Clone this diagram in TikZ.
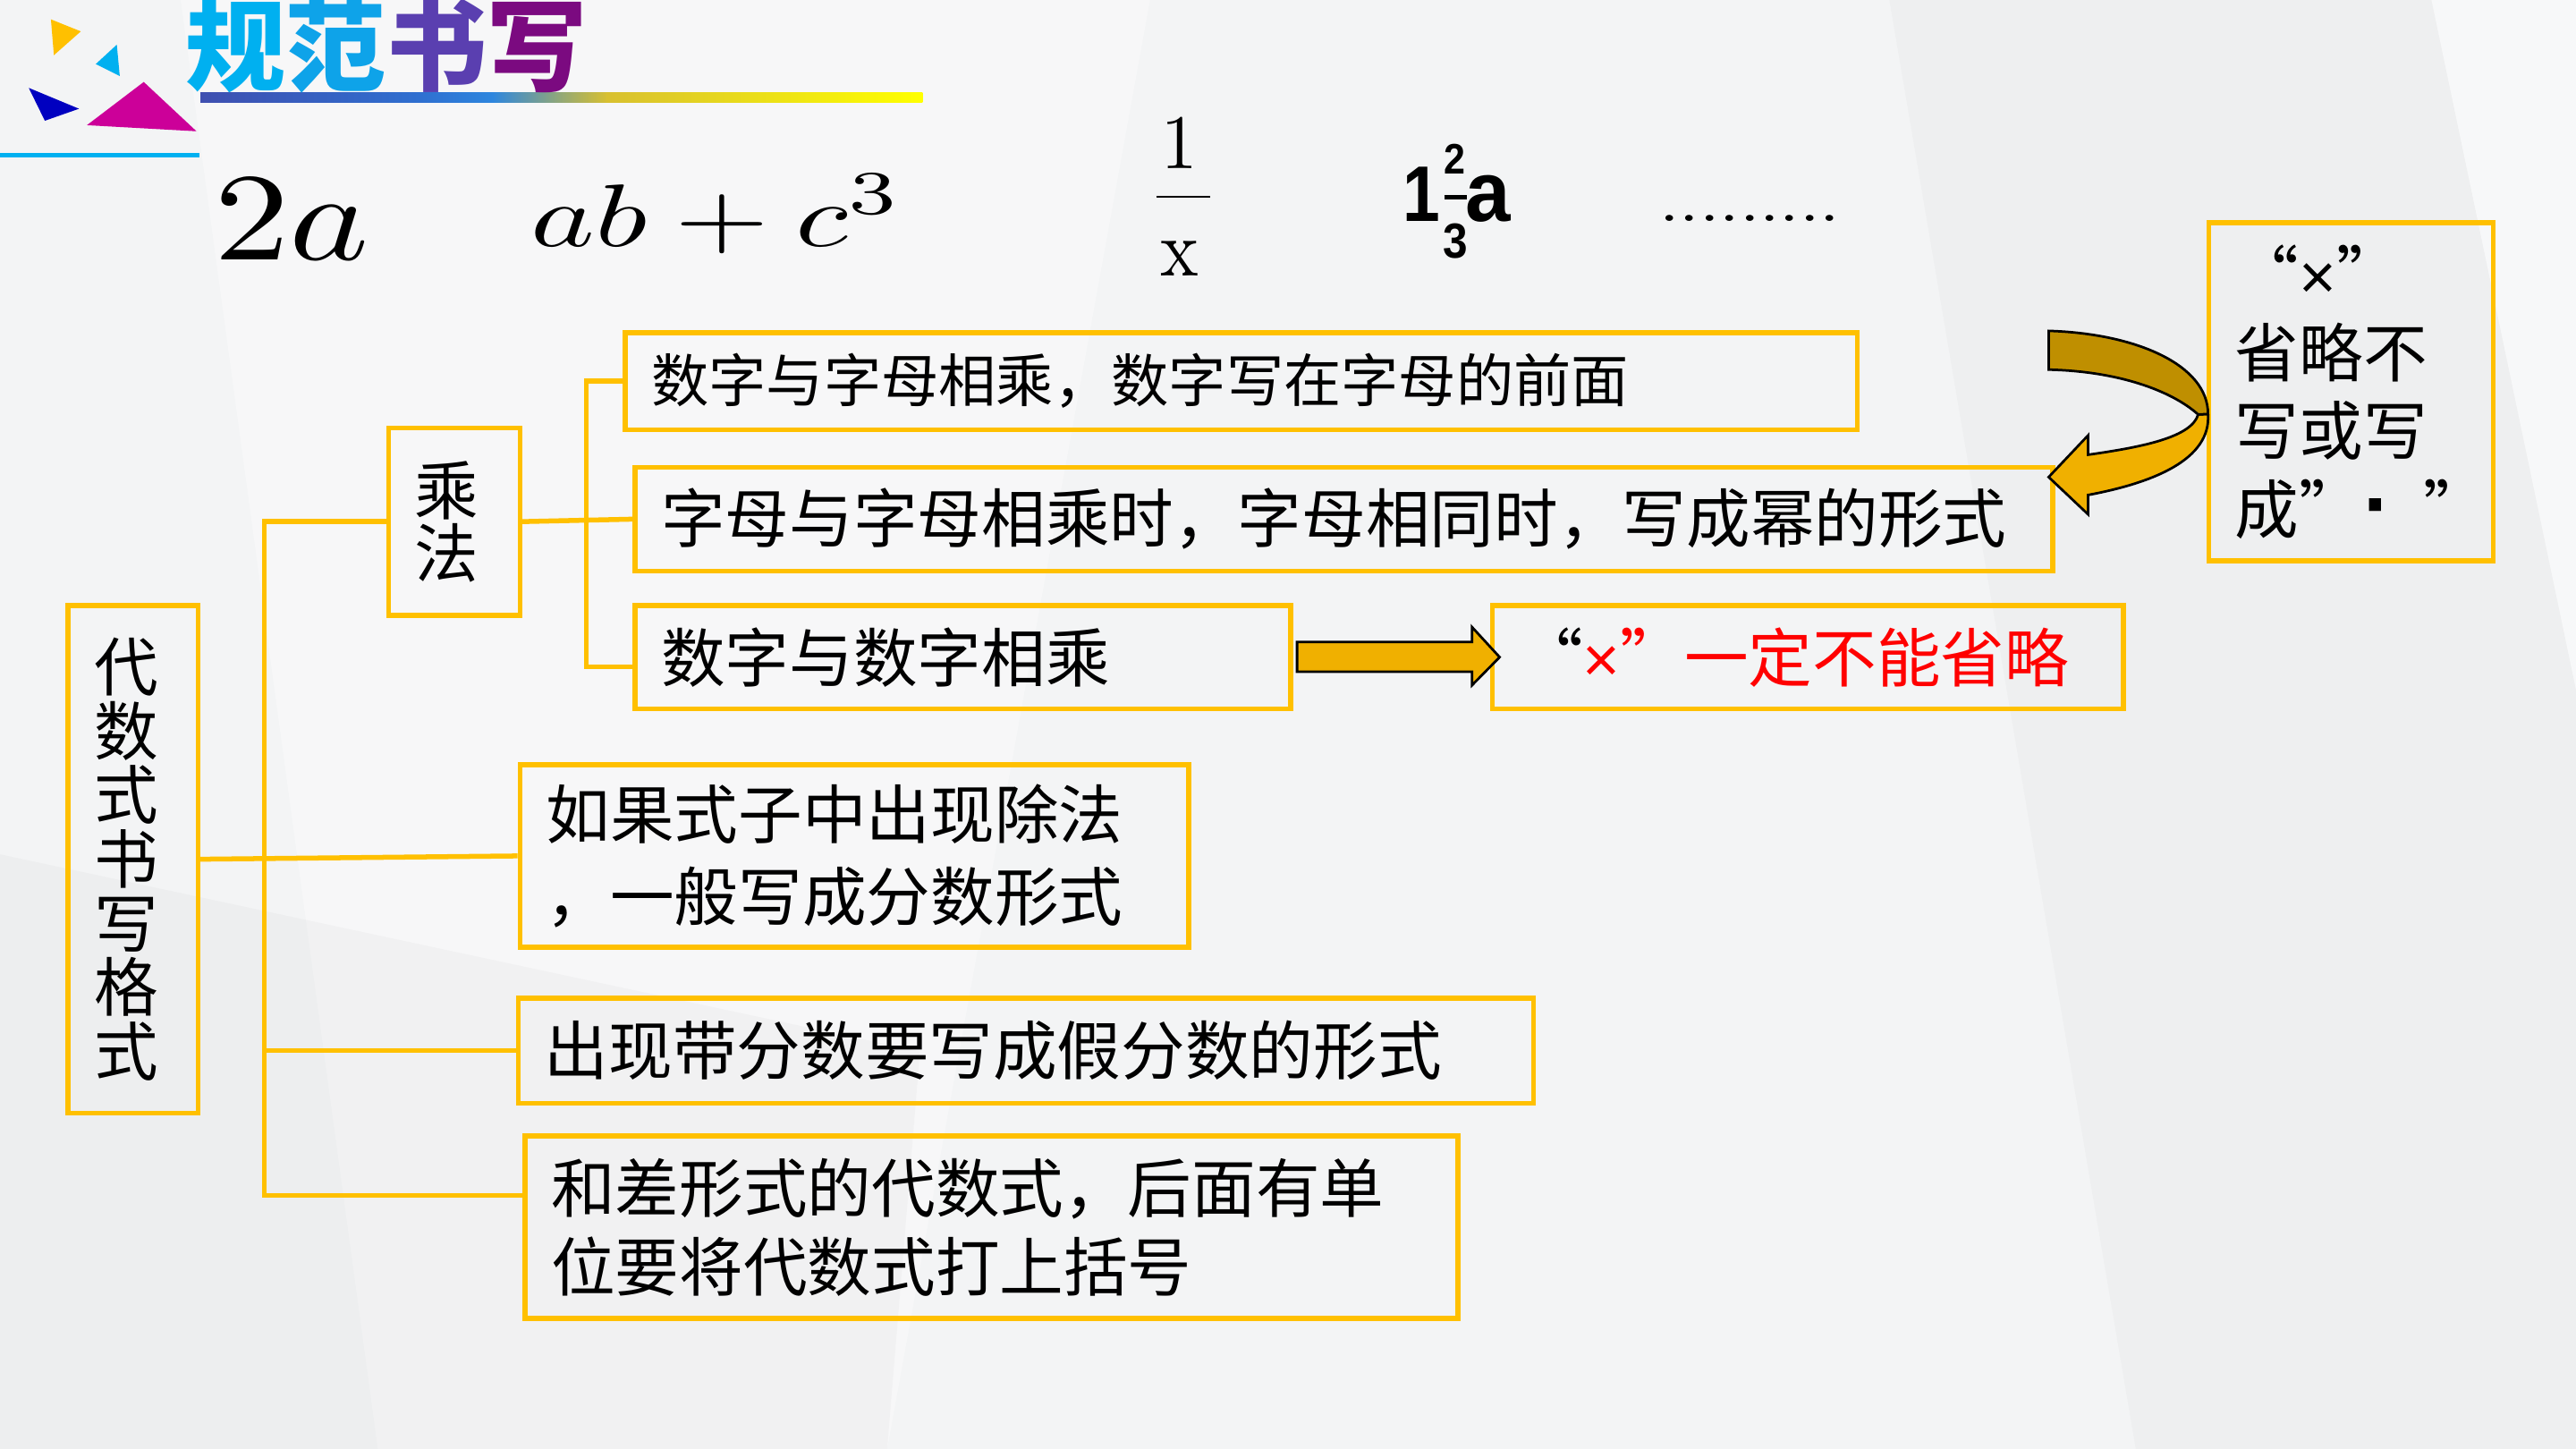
\documentclass[tikz,border=0pt]{standalone}
\usepackage[no-math]{fontspec}
\usepackage{graphicx}
\usetikzlibrary{calc}
\setmainfont{Noto Sans CJK SC}
\newfontfamily\lsans{Liberation Sans}
\definecolor{boxy}{HTML}{FFC000}
\definecolor{bgc}{HTML}{F3F4F5}
\definecolor{arrowy}{HTML}{F0B000}
\definecolor{arrowd}{HTML}{BF8F00}
\definecolor{tcyan}{HTML}{00B0F0}
\definecolor{tblue}{HTML}{2F86DA}
\definecolor{tviol}{HTML}{5A3FB0}
\definecolor{tpurp}{HTML}{7B0A80}
\definecolor{redt}{HTML}{FF0000}
\definecolor{dblue}{HTML}{0000C0}
\definecolor{magt}{HTML}{CC0099}
\tikzset{
  ybox/.style={draw=boxy, line width=3pt, anchor=north west, inner xsep=16pt, inner ysep=0pt, align=left,
    font=\fontsize{39}{48}\selectfont},
  conn/.style={draw=boxy, line width=3pt},
  blockarrow/.style={draw=black, line width=1.5pt, line join=miter},
}
\begin{document}
\begin{tikzpicture}[x=1pt,y=-1pt]
\fill[bgc] (0,0) rectangle (1568,882);
\useasboundingbox (0,0) rectangle (1568,882);
% faint background facets
\fill[white, opacity=0.35] (110,0) -- (700,0) -- (540,882) -- (230,882) -- cycle;
\fill[black, opacity=0.025] (0,520) -- (560,640) -- (540,882) -- (0,882) -- cycle;
\fill[white, opacity=0.4] (1480,0) -- (1568,0) -- (1568,420) -- cycle;
\fill[black, opacity=0.02] (1150,0) -- (1480,0) -- (1568,420) -- (1568,882) -- (1300,882) -- cycle;

% decorative triangles
\fill[boxy] (31,11.8) -- (49.2,19.1) -- (32.8,33.6) -- cycle;
\fill[tcyan] (71.1,27.2) -- (72.9,46.3) -- (58.3,39) -- cycle;
\fill[dblue] (17.5,53.5) -- (48.1,66.2) -- (27.3,73.5) -- cycle;
\fill[magt] (87.5,49.9) -- (119.6,79.9) -- (52.9,76.2) -- cycle;
\fill[tcyan] (0,93.2) rectangle (121.4,95.6);

% title underline bar
\shade[left color={rgb,255:red,63;green,79;blue,176}, right color={rgb,255:red,47;green,111;blue,208}] (122,56.6) rectangle (255,62.6);
\shade[left color={rgb,255:red,47;green,111;blue,208}, right color={rgb,255:red,46;green,134;blue,222}] (254.5,56.6) rectangle (300,62.6);
\shade[left color={rgb,255:red,46;green,134;blue,222}, right color={rgb,255:red,216;green,192;blue,48}] (299.5,56.6) rectangle (370,62.6);
\shade[left color={rgb,255:red,216;green,192;blue,48}, right color={rgb,255:red,255;green,255;blue,0}] (369.5,56.6) rectangle (561.5,62.6);

% title
\node (title) [anchor=base west, inner sep=0pt, font=\fontsize{61}{61}\selectfont\bfseries]
  at (113,51) {\textcolor{tcyan}{规}\textcolor{tcyan!70!tblue}{范}\textcolor{tviol}{书}\textcolor{tpurp}{写}};

% math examples
\node (m2a) [anchor=base west, inner sep=0pt] at (130,158) {\scalebox{9.2}[7.6]{$2a$}};
\node (mab) [anchor=base west, inner sep=0pt] at (323,150) {\scalebox{7.4}[5.4]{$ab+c^3$}};
\node (fnum) [anchor=base, inner sep=0pt] at (718,102.5) {\scalebox{4.4}[4.7]{$1$}};
\node (fden) [anchor=base, inner sep=0pt] at (718,168) {\scalebox{4.4}[4.9]{$\mathrm{x}$}};
\draw[line width=1.5pt] (703.7,119.8) -- (736.6,119.8);
\node (mone) [anchor=base west, inner sep=0pt, font=\lsans\bfseries\fontsize{48}{48}\selectfont] at (854,135) {\scalebox{0.85}[1]{1}};
\node (mtwo) [anchor=base west, inner sep=0pt, font=\lsans\bfseries\fontsize{26}{26}\selectfont] at (879,106) {\scalebox{0.9}[1]{2}};
\node (mthree) [anchor=base west, inner sep=0pt, font=\lsans\bfseries\fontsize{30}{30}\selectfont] at (878,157) {\scalebox{0.9}[1]{3}};
\draw[line width=3pt] (879,120) -- (893,120);
\node (ma) [anchor=base west, inner sep=0pt, font=\lsans\bfseries\fontsize{52}{52}\selectfont] at (892,135) {\scalebox{0.95}[1]{a}};
\node (mdots) [anchor=base west, inner sep=0pt] at (1010,135) {\scalebox{4.4}[3.5]{$.........$}};

% boxes
\node (main) [ybox, minimum height=309pt, text width=47pt, align=left,
  font=\fontsize{39}{39}\selectfont] at (40,367) {代\\数\\式\\书\\写\\格\\式};
\node (cheng) [ybox, minimum height=114pt, text width=48pt, align=left,
  font=\fontsize{39}{38}\selectfont] at (235,259) {乘\\法};
\node (b1) [ybox, minimum height=59pt, text width=718pt, font=\fontsize{35}{42}\selectfont] at (379,201)
  {数字与字母相乘，数字写在字母的前面};
\node (b2) [ybox, minimum height=63pt, text width=831pt] at (385,283)
  {字母与字母相乘时，字母相同时，写成幂的形式};
\node (b3) [ybox, minimum height=63pt, text width=367pt] at (385,367) {数字与数字相乘};
\node (bx) [ybox, minimum height=63pt, text width=352pt] at (907,367)
  {“\textcolor{redt}{{\lsans ×}”一定不能省略}};
\node (rbox) [ybox, minimum height=206pt, text width=141pt, font=\fontsize{39}{47.5}\selectfont] at (1343,134)
  {“{\lsans ×}”\\省略不\\写或写\\\mbox{成”{\lsans\bfseries\fontsize{52}{52}\selectfont ·}\hspace{0.5em}”}};
\node (b4) [ybox, minimum height=111pt, text width=375pt, font=\fontsize{39}{50}\selectfont] at (315,464)
  {如果式子中出现除法\\，一般写成分数形式};
\node (b5) [ybox, minimum height=64pt, text width=586pt] at (314,606) {出现带分数要写成假分数的形式};
\node (b6) [ybox, minimum height=111pt, text width=536pt] at (318,690)
  {和差形式的代数式，后面有单\\位要将代数式打上括号};

% connectors
\coordinate (trunk) at (161,0);
\coordinate (btrunk) at (357,0);
\coordinate (b6in) at ($(b6.north west)!0.33!(b6.south west)$);
\coordinate (b3in) at ($(b3.west)+(0,6)$);
\draw[conn] (main.east) -- (b4.west);
\draw[conn] (cheng.west) -- (cheng.west -| trunk) -- (b6in -| trunk) -- (b6in);
\draw[conn] (b5.west -| trunk) -- (b5.west);
\draw[conn] (cheng.east) -- (b2.west);
\draw[conn] (b1.west) -- (b1.west -| btrunk) -- (b3in -| btrunk) -- (b3in);

% straight block arrow
\begin{scope}[shift={(b3.east)}]
\draw[blockarrow, fill=arrowy] (2.5,-9.2) -- (109,-9.2) -- (109,-18.3) -- (125.8,0) -- (109,17.1) -- (109,8.9) -- (2.5,8.9) -- cycle;
\end{scope}

% curved block arrow from right box to b2
\draw[blockarrow, fill=arrowy] (1338,252.3) -- (1344,252) .. controls (1346,280) and (1310,294) .. (1271,301.3)
  -- (1271,313.1) -- (1247,290.4) -- (1271,265) -- (1271,276.8) .. controls (1305,272) and (1334,266) .. (1338,252.3) -- cycle;
\draw[blockarrow, fill=arrowd] (1247,201.4) .. controls (1300,203) and (1344,222) .. (1344,252)
  -- (1338,252.3) .. controls (1322,238) and (1290,226) .. (1247,225) -- cycle;
\end{tikzpicture}
\end{document}
